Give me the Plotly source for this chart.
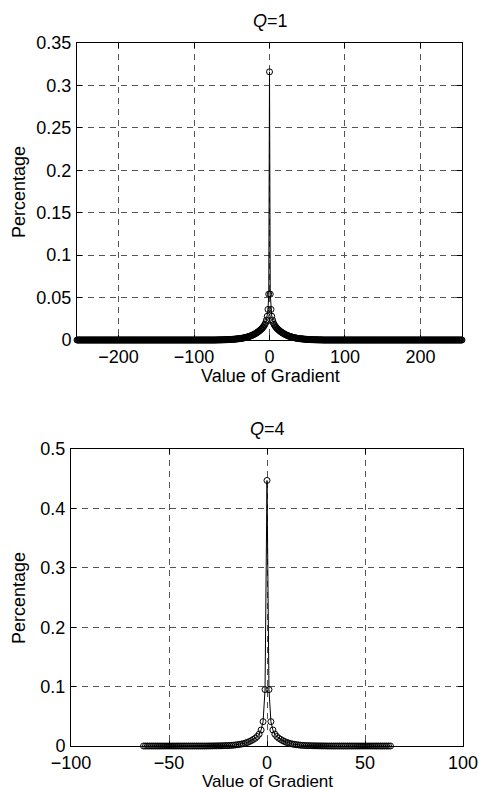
import plotly.graph_objects as go

# ---------------- data ----------------
# Q=1 : gradient values -255..255, percentage (symmetric)
q1_center = 0.316
q1_pos = [0.054, 0.036, 0.028, 0.0235, 0.0205, 0.0185, 0.017, 0.0157, 0.0146, 0.0136,
          0.0127, 0.0119, 0.0111, 0.0104, 0.0097, 0.0091, 0.0085, 0.0079, 0.0074, 0.0069,
          0.0064, 0.0060, 0.0056, 0.0052, 0.0048, 0.0045, 0.0042, 0.0039, 0.0036, 0.0034,
          0.0031, 0.0029, 0.0027, 0.0025, 0.0023, 0.0021, 0.0020, 0.0018, 0.0017, 0.0016,
          0.0015, 0.0014, 0.0013, 0.0012, 0.0011, 0.0010, 0.0009, 0.0009, 0.0008, 0.0007,
          0.0007, 0.0006, 0.0006, 0.0005, 0.0005, 0.0004, 0.0004, 0.0004, 0.0003, 0.0003,
          0.0003, 0.0002, 0.0002, 0.0002, 0.0002, 0.0001, 0.0001, 0.0001, 0.0001, 0.0001]
q1_pos = q1_pos + [0.0] * (255 - len(q1_pos))
q1_y = q1_pos[::-1] + [q1_center] + q1_pos
q1_x = list(range(-255, 256))

# Q=4 : gradient values -63..63
q4_center = 0.447
q4_pos = [0.095, 0.041, 0.027, 0.020, 0.016, 0.013, 0.011, 0.009, 0.0075, 0.006,
          0.005, 0.004, 0.0033, 0.0027, 0.0022, 0.0018, 0.0014, 0.0011, 0.0009, 0.0007,
          0.0006, 0.0005, 0.0004, 0.0003, 0.0003, 0.0002, 0.0002, 0.0001, 0.0001, 0.0001]
q4_pos = q4_pos + [0.0] * (63 - len(q4_pos))
q4_y = q4_pos[::-1] + [q4_center] + q4_pos
q4_x = list(range(-63, 64))

q1_xticks = [-200, -100, 0, 100, 200]
q1_yticks = [0, 0.05, 0.1, 0.15, 0.2, 0.25, 0.3, 0.35]
q4_xticks = [-100, -50, 0, 50, 100]
q4_yticks = [0, 0.1, 0.2, 0.3, 0.4, 0.5]

# ---------------- figure ----------------
W, H = 479, 790
FONT = "Liberation Sans, Arial, sans-serif"
FS = 18

fig = go.Figure()

def add_series(x, y, xa, ya):
    fig.add_trace(go.Scatter(
        x=x, y=y, mode="lines+markers", xaxis=xa, yaxis=ya,
        line=dict(color="black", width=1),
        marker=dict(symbol="circle-open", size=6, color="black", line=dict(width=1, color="black")),
        cliponaxis=False, showlegend=False, hoverinfo="x+y"))

add_series(q1_x, q1_y, "x", "y")
add_series(q4_x, q4_y, "x2", "y2")

def ax_style(rng, ticks, domain, anchor, standoff):
    return dict(
        range=rng, domain=domain, anchor=anchor, tickvals=ticks,
        automargin=False,
        showline=True, mirror="ticks", linecolor="black", linewidth=1,
        ticks="inside", ticklen=5, tickcolor="black", tickwidth=1,
        showgrid=True, gridcolor="#555555", griddash="6px,5px", gridwidth=1,
        zeroline=False, tickfont=dict(family=FONT, size=FS, color="black"),
        fixedrange=True, ticklabelstandoff=standoff,
    )

top_x = [77 / W, 462 / W]
top_y = [1 - 340 / H, 1 - 43 / H]
bot_x = [71 / W, 463 / W]
bot_y = [1 - 746 / H, 1 - 449 / H]

fig.update_layout(
    template="none",
    width=W, height=H,
    margin=dict(l=0, r=0, t=0, b=0, pad=0),
    paper_bgcolor="white", plot_bgcolor="white",
    font=dict(family=FONT, size=FS, color="black"),
    xaxis=ax_style([-255, 255], q1_xticks, top_x, "y", 0),
    yaxis=ax_style([0, 0.35], q1_yticks, top_y, "x", 1),
    xaxis2=ax_style([-100, 100], q4_xticks, bot_x, "y2", 0),
    yaxis2=ax_style([0, 0.5], q4_yticks, bot_y, "x2", 1),
)

def ann(text, x, y, angle=0, size=FS):
    fig.add_annotation(text=text, x=x / W, y=1 - y / H, xref="paper", yref="paper",
                       showarrow=False, textangle=angle, xanchor="center", yanchor="middle",
                       font=dict(family=FONT, size=size, color="black"))

ann("<i>Q</i>=1", 270, 21)
ann("Value of Gradient", 270, 376)
ann("Percentage", 19, 192, -90)
ann("<i>Q</i>=4", 267, 429)
ann("Value of Gradient", 267, 781, size=17)
ann("Percentage", 19, 598, -90)

fig.write_html("out.html",
               config={"displayModeBar": False},
               post_script="document.body.style.margin='0';document.body.style.overflow='hidden';")
